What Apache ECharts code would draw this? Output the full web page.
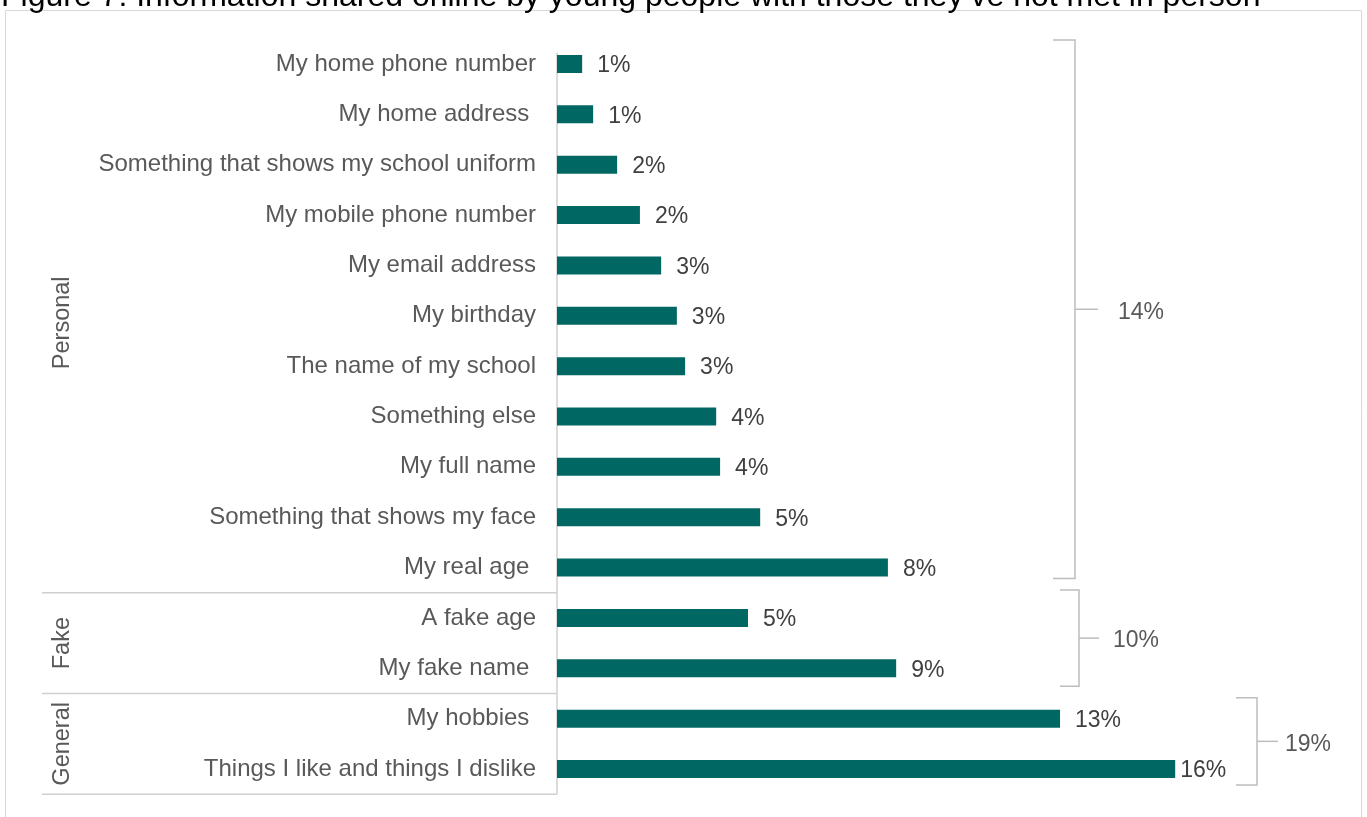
<!DOCTYPE html>
<html>
<head>
<meta charset="utf-8">
<script src="https://cdn.jsdelivr.net/npm/echarts@6/dist/echarts.min.js"></script>
<style>
  html, body { margin: 0; padding: 0; background: #ffffff; }
  #chart { width: 1367px; height: 817px; }
</style>
</head>
<body>
<div id="chart"></div>
<script>
// Information shared online with people not met in person (% of young people)
const titleText = 'Figure 7: Information shared online by young people with those they\u2019ve not met in person';

const categories = [
  'My home phone number',
  'My home address ',
  'Something that shows my school uniform',
  'My mobile phone number',
  'My email address',
  'My birthday',
  'The name of my school',
  'Something else',
  'My full name',
  'Something that shows my face',
  'My real age ',
  'A fake age',
  'My fake name ',
  'My hobbies ',
  'Things I like and things I dislike'
];

const shares = [0.64, 0.92, 1.53, 2.11, 2.65, 3.05, 3.26, 4.05, 4.15, 5.17, 8.42, 4.86, 8.63, 12.8, 15.73];

// Category groups (consecutive rows) and the share of young people sharing any item in the group
const groupNames  = ['Personal', 'Fake', 'General'];
const groupSizes  = [11, 2, 2];
const groupTotals = [14, 10, 19];

const FONT = '"Liberation Sans", Arial, sans-serif';
const TEAL = '#006762';
const GREY_TEXT = '#595959';
const LINE_GREY = '#d0d0d0';
const BRACKET_GREY = '#bdbdbd';

const chart = echarts.init(document.getElementById('chart'), null, { renderer: 'canvas' });

chart.setOption({
  animation: false,
  backgroundColor: '#ffffff',
  grid: { left: 557, width: 786, top: 38.8, height: 755.4, containLabel: false },
  xAxis: {
    type: 'value', min: 0, max: 20,
    show: false
  },
  yAxis: {
    type: 'category',
    inverse: true,
    data: categories,
    axisLine: { show: false },
    axisTick: { show: false },
    splitLine: { show: false },
    axisLabel: {
      color: GREY_TEXT,
      fontFamily: FONT,
      fontSize: 24,
      margin: 21,
      padding: [4, 0, 0, 0]
    }
  },
  series: [{
    type: 'bar',
    data: shares.map((v, i) => i === shares.length - 1
      ? { value: v, label: { distance: 5 } }
      : v),
    barWidth: 18,
    itemStyle: { color: TEAL },
    label: {
      show: true,
      position: 'right',
      distance: 15,
      offset: [0, 2],
      color: '#404040',
      fontFamily: FONT,
      fontSize: 23,
      formatter: p => Math.round(p.value) + '%'
    }
  }]
});

// Row geometry from the category axis
const rowY = i => chart.convertToPixel({ yAxisIndex: 0 }, i);
const band = rowY(1) - rowY(0);
const zeroX = chart.convertToPixel({ xAxisIndex: 0 }, 0);
const plotBottom = rowY(categories.length - 1) + band / 2;
const axisTop = rowY(0) - band / 2 + 14;
const groupLeft = 42;

// Bracket layout per group
const bracketX    = [1075, 1079, 1257];
const bracketArm  = [22, 19, 21];
const bracketTick = [23, 20, 21];
const padTop      = [24, 28, 21];
const padBottom   = [11, 18, 16];
const labelGap    = [20, 14, 7];

const graphics = [];

// Outer frame
graphics.push({
  type: 'rect', silent: true,
  shape: { x: 5.5, y: 10.5, width: 1356, height: 830 },
  style: { fill: 'none', stroke: '#d9d9d9', lineWidth: 1 }
});

// Title (runs off the top of the page)
graphics.push({
  type: 'text', silent: true,
  style: {
    x: 1, y: 13, text: titleText,
    font: 'normal 32px ' + FONT,
    fill: '#000000', verticalAlign: 'bottom', align: 'left'
  }
});

// Category axis line
graphics.push({
  type: 'line', silent: true,
  shape: { x1: zeroX, y1: axisTop, x2: zeroX, y2: plotBottom },
  style: { stroke: LINE_GREY, lineWidth: 1.5 }
});

let start = 0;
groupNames.forEach((name, g) => {
  const end = start + groupSizes[g] - 1;
  const top = g === 0 ? axisTop : rowY(start) - band / 2;
  const bottom = rowY(end) + band / 2;

  // separator under each group
  graphics.push({
    type: 'line', silent: true,
    shape: { x1: groupLeft, y1: bottom, x2: zeroX, y2: bottom },
    style: { stroke: LINE_GREY, lineWidth: 1.5 }
  });

  // rotated group name
  graphics.push({
    type: 'text', silent: true,
    x: 63, y: (top + bottom) / 2, rotation: Math.PI / 2,
    style: {
      text: name, font: 'normal 23.5px ' + FONT, fill: GREY_TEXT,
      align: 'center', verticalAlign: 'middle'
    }
  });

  // right-hand bracket with group total
  const bx = bracketX[g];
  const bt = rowY(start) - padTop[g];
  const bb = rowY(end) + padBottom[g];
  const mid = (bt + bb) / 2;
  graphics.push({
    type: 'polyline', silent: true,
    shape: { points: [[bx - bracketArm[g], bt], [bx, bt], [bx, bb], [bx - bracketArm[g], bb]] },
    style: { stroke: BRACKET_GREY, lineWidth: 1.5, fill: 'none' }
  });
  graphics.push({
    type: 'line', silent: true,
    shape: { x1: bx, y1: mid, x2: bx + bracketTick[g], y2: mid },
    style: { stroke: BRACKET_GREY, lineWidth: 1.5 }
  });
  graphics.push({
    type: 'text', silent: true,
    style: {
      x: bx + bracketTick[g] + labelGap[g], y: mid + 3,
      text: groupTotals[g] + '%', font: 'normal 23px ' + FONT, fill: GREY_TEXT,
      align: 'left', verticalAlign: 'middle'
    }
  });

  start = end + 1;
});

chart.setOption({ graphic: graphics });
</script>
</body>
</html>
